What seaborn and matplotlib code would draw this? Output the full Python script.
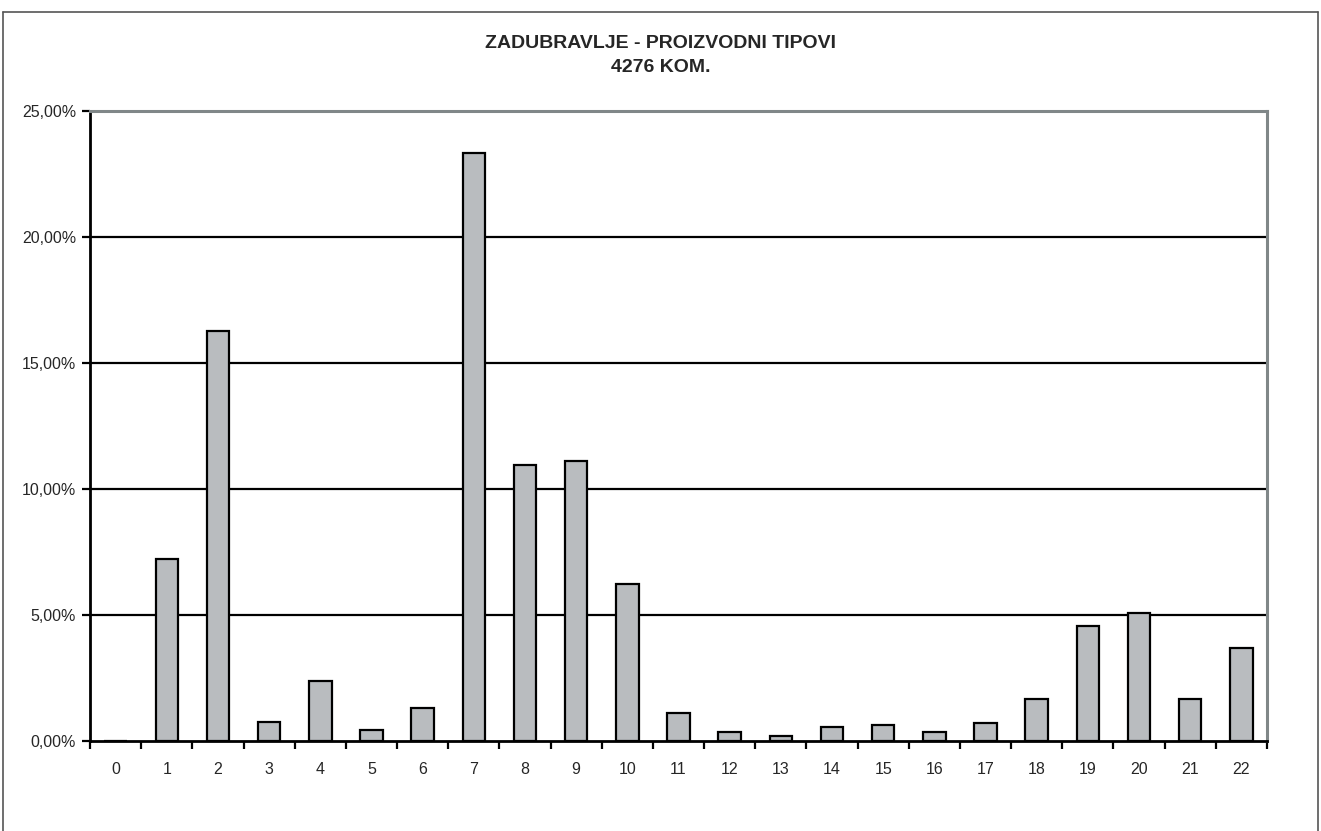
import pandas as pd
import numpy as np
import matplotlib
matplotlib.use('Agg')
import matplotlib.pyplot as plt
import seaborn as sns
from matplotlib.ticker import FuncFormatter, MultipleLocator
from matplotlib.lines import Line2D


# chart data
types = [str(i) for i in range(23)]
shares = [0.00, 7.24, 16.26, 0.74, 2.39, 0.43, 1.30, 23.34, 10.94, 11.10,
          6.25, 1.13, 0.37, 0.21, 0.54, 0.65, 0.37, 0.70, 1.68, 4.56,
          5.06, 1.68, 3.69]
title_lines = ['ZADUBRAVLJE - PROIZVODNI TIPOVI', '4276 KOM.']

df = pd.DataFrame({'tip': types, 'udio': shares})

sns.set_theme(style='white')
plt.rcParams['font.family'] = ['Liberation Sans', 'DejaVu Sans']

fig = plt.figure(figsize=(13.21, 8.31), dpi=100)
ax = fig.add_axes([90 / 1321, 90 / 831, 1177 / 1321, 630 / 831])

# bars
sns.barplot(data=df, x='tip', y='udio', order=types, color='#b9bcbf',
            saturation=1, width=0.44, edgecolor='black', linewidth=1.6,
            ax=ax, zorder=3)

# y axis set up like the excel original
ax.set_ylim(0, 25)
ax.set_xlim(-0.5, len(types) - 0.5)
ax.yaxis.set_major_locator(MultipleLocator(5))
ax.yaxis.set_major_formatter(FuncFormatter(lambda v, p: f'{v:.2f}%'.replace('.', ',')))
for v in [5, 10, 15, 20]:
    ax.axhline(v, color='black', linewidth=1.6, zorder=1)

# ticks sit between categories on the x axis
ax.set_xticks(np.arange(-0.5, len(types), 1), minor=False)
ax.set_xticklabels([])
ax.set_xticks(np.arange(len(types)), minor=True)
ax.set_xticklabels(types, minor=True, fontsize=11.5)
ax.tick_params(axis='x', which='major', direction='out', length=6, width=1.6,
               color='black', bottom=True)
ax.tick_params(axis='x', which='minor', length=0, pad=15)
ax.tick_params(axis='y', direction='out', length=6, width=1.6, color='black',
               left=True, labelsize=11.5, pad=4)
ax.set_xlabel('')
ax.set_ylabel('')

# spines: black axes, gray plot-area border
for side in ['left', 'bottom']:
    ax.spines[side].set_color('black')
    ax.spines[side].set_linewidth(2)
for side in ['top', 'right']:
    ax.spines[side].set_color('#808788')
    ax.spines[side].set_linewidth(2.2)

# title
fig.text(0.5, 1 - 43 / 831, title_lines[0], ha='center', va='center',
         fontsize=14, fontweight='bold')
fig.text(0.5, 1 - 68 / 831, title_lines[1], ha='center', va='center',
         fontsize=14, fontweight='bold')

# outer chart frame
frame_kw = dict(color='#555555', linewidth=1.2, transform=fig.transFigure)
fig.add_artist(Line2D([3 / 1321, 1318 / 1321], [1 - 12 / 831, 1 - 12 / 831], **frame_kw))
fig.add_artist(Line2D([3 / 1321, 3 / 1321], [0, 1 - 12 / 831], **frame_kw))
fig.add_artist(Line2D([1318 / 1321, 1318 / 1321], [0, 1 - 12 / 831], **frame_kw))

fig.savefig('out.png', dpi=100, facecolor='white')
